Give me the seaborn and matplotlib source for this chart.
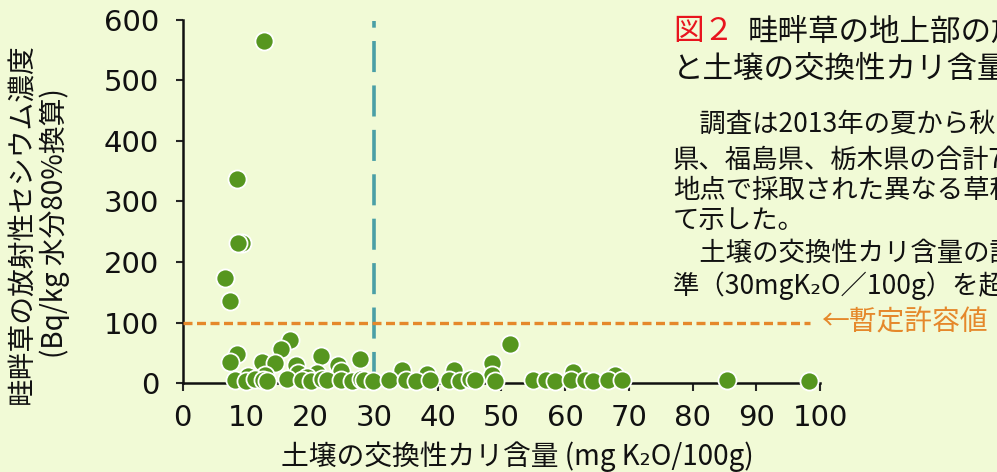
import matplotlib
matplotlib.use("Agg")
import matplotlib.pyplot as plt
import seaborn as sns
import pandas as pd

# Exchangeable potassium in soil (mg K2O/100g) and radiocesium in levee grass (Bq/kg, 80% moisture)
potassium = [
    12.8, 8.5, 9.3, 8.7, 6.6, 7.5,
    8.5, 7.4, 16.8, 15.5, 12.4, 14.5, 21.7, 17.8, 18.1, 24.4, 24.9, 27.8, 21.0,
    34.4, 38.3, 42.6, 48.5, 48.5, 51.4, 61.3, 67.9, 10.3, 12.9, 19.5,
    8.2, 10.0, 11.3, 12.6, 13.2, 16.3, 18.7, 20.2, 21.8, 22.6, 24.9, 26.5, 27.9,
    28.4, 29.9, 32.4, 35.1, 36.6, 38.8, 41.8, 43.5, 45.1, 45.9, 49.0, 55.0,
    57.0, 58.4, 61.0, 63.1, 64.4, 66.8, 68.9, 85.4, 98.2,
]
cesium = [
    566, 337, 232, 232, 174, 136,
    48, 35, 71, 57, 34, 33, 45, 30, 16, 30, 20, 39, 16,
    21, 15, 22, 33, 14, 65, 18, 14, 12, 13, 10,
    5, 4, 6, 5, 4, 6, 5, 4, 6, 5, 5, 4, 6,
    5, 4, 5, 5, 4, 5, 5, 4, 6, 5, 4, 5,
    5, 4, 5, 5, 4, 5, 5, 5, 4,
]

x_ticks = [0, 10, 20, 30, 40, 50, 60, 70, 80, 90, 100]
y_ticks = [0, 100, 200, 300, 400, 500, 600]
potassium_standard = 30      # soil K2O improvement target
provisional_limit = 100      # provisional tolerance for feed
limit_line_end = 98.5

title_mark = "図２"
title_lines = ["畦畔草の地上部の放", "と土壌の交換性カリ含量"]
body_lines = [
    "　調査は2013年の夏から秋",
    "県、福島県、栃木県の合計7",
    "地点で採取された異なる草種",
    "て示した。",
    "　土壌の交換性カリ含量の診",
    "準（30mgK₂O／100g）を超",
]
x_label = "土壌の交換性カリ含量 (mg K₂O/100g)"
y_label_lines = ["畦畔草の放射性セシウム濃度", "(Bq/kg 水分80%換算)"]
limit_label = "←暫定許容値"

df = pd.DataFrame({"potassium": potassium, "cesium": cesium})

bg = "#F1FAD6"
green = "#56961F"
orange = "#E5882B"
teal = "#4A9FA6"
jp = ["Noto Sans CJK JP", "DejaVu Sans"]

sns.set_style("ticks")
plt.rcParams["font.family"] = jp

W, H = 997, 472
fig = plt.figure(figsize=(W / 100, H / 100), dpi=100, facecolor=bg)
ax = fig.add_axes([182.7 / W, 1 - 383 / H, (820 - 182.7) / W, (383 - 20) / H])
ax.set_facecolor(bg)

sns.scatterplot(data=df, x="potassium", y="cesium", ax=ax, s=170, color=green,
                edgecolor="white", linewidth=1.3, clip_on=False, zorder=5,
                legend=False)

ax.axvline(potassium_standard, ymin=0, ymax=0.997, color=teal, lw=2.6,
           linestyle=(0, (8.6, 3.7)), zorder=3)
ax.hlines(provisional_limit, 0, limit_line_end, color=orange, lw=2.4,
          linestyle=(0, (2.7, 1.35)), zorder=3, clip_on=False)

ax.set_xlim(0, 100)
ax.set_ylim(0, 600)
ax.set_xticks(x_ticks)
ax.set_yticks(y_ticks)
for lab in ax.get_xticklabels() + ax.get_yticklabels():
    lab.set_family("DejaVu Sans")
    lab.set_fontsize(21)
    lab.set_color("#111111")
ax.tick_params(axis="x", direction="out", length=6, width=1.5, pad=9)
ax.tick_params(axis="y", direction="out", length=5, width=1.5, pad=12)
for side in ("top", "right"):
    ax.spines[side].set_visible(False)
for side in ("left", "bottom"):
    ax.spines[side].set_linewidth(1.8)
    ax.spines[side].set_color("#111111")
ax.set_xlabel("")
ax.set_ylabel("")

# axis titles
fig.text(517 / W, 1 - 457 / H, x_label, fontsize=20, ha="center", va="center",
         family=jp, color="#111111")
fig.text(22 / W, 1 - 224 / H, y_label_lines[0], fontsize=20, rotation=90,
         ha="center", va="center", family=jp, color="#111111")
fig.text(55 / W, 1 - 223 / H, y_label_lines[1], fontsize=20, rotation=90,
         ha="center", va="center", family=jp, color="#111111")

# threshold annotation
fig.text(821 / W, 1 - 322 / H, limit_label, fontsize=20, ha="left", va="center",
         family=jp, color=orange)

# caption block, running off the right edge of the figure
fig.text(673 / W, 1 - 32 / H, title_mark, fontsize=22, ha="left", va="center",
         family=jp, color="#E8141E")
fig.text(748 / W, 1 - 32 / H, title_lines[0], fontsize=22, ha="left", va="center",
         family=jp, color="#111111")
fig.text(673 / W, 1 - 69 / H, title_lines[1], fontsize=22, ha="left", va="center",
         family=jp, color="#111111")
body_y = [124, 160, 190, 220, 253, 286]
for yy, line in zip(body_y, body_lines):
    fig.text(673 / W, 1 - yy / H, line, fontsize=19, ha="left", va="center",
             family=jp, color="#111111")

fig.savefig("out.png", dpi=100, facecolor=bg)
